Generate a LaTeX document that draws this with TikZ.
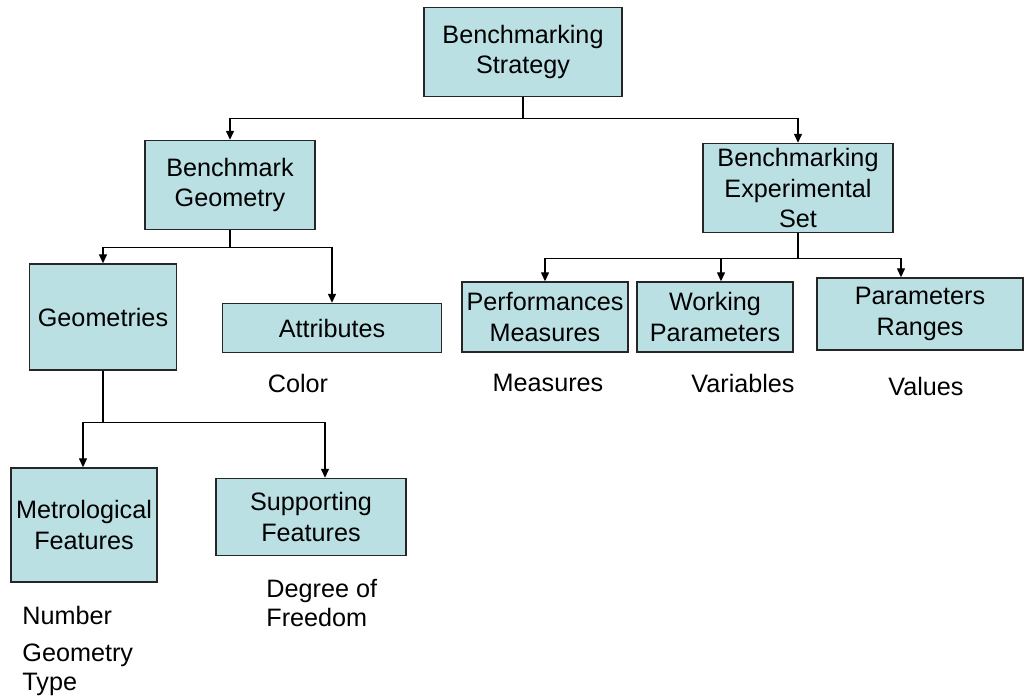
\documentclass[tikz,border=0pt]{standalone}
\usepackage{fontspec}
\setmainfont{Liberation Sans}
\usetikzlibrary{arrows.meta}
\definecolor{boxfill}{HTML}{BBE0E3}
\tikzset{block/.style={draw=black!85, fill=boxfill, line width=.7pt, align=center, inner sep=0pt, font=\fontsize{12.6}{15.3}\selectfont}}
\tikzset{link/.style={line width=.65pt, -{Triangle[width=4pt,length=4.5pt]}}}
\tikzset{note/.style={align=left, inner sep=0pt, font=\fontsize{12.6}{14.5}\selectfont}}

\begin{document}
\begin{tikzpicture}[x=.5pt, y=-.5pt]
		\useasboundingbox (0,0) rectangle (1024,700);
		% Boxes
		\node[block, minimum width=99pt, minimum height=44.5pt] (strat) at (523,52) {Benchmarking\\Strategy};
		\node[block, minimum width=85pt, minimum height=44.5pt] (bgeo) at (230,185) {Benchmark\\Geometry};
		\node[block, minimum width=95pt, minimum height=44.5pt] (bexp) at (798,188) {Benchmarking\\Experimental\\Set};
		\node[block, minimum width=73.5pt, minimum height=53pt] (geos) at (103,317) {Geometries};
		\node[block, minimum width=109.5pt, minimum height=24.5pt] (attr) at (332,328) {Attributes};
		\node[block, minimum width=83pt, minimum height=35pt] (perf) at (545,317) {Performances\\Measures};
		\node[block, minimum width=78pt, minimum height=35pt] (work) at (715,317) {Working\\Parameters};
		\node[block, minimum width=103pt, minimum height=36pt] (rang) at (920,314) {Parameters\\Ranges};
		\node[block, minimum width=73pt, minimum height=57pt] (metr) at (84,525) {Metrological\\Features};
		\node[block, minimum width=95pt, minimum height=38.5pt] (supp) at (311,517) {Supporting\\Features};

		% Connectors
		\draw[link] (strat.south) -- ++(0,21) -| (bgeo.north);
		\draw[link] (strat.south) -- ++(0,21) -| (bexp.north);
		\draw[link] (bgeo.south) -- ++(0,17) -| (geos.north);
		\draw[link] (bgeo.south) -- ++(0,17) -| (attr.north);
		\draw[link] (bexp.south) -- ++(0,25) -| (perf.north);
		\draw[link] (bexp.south) -- ++(0,25) -| ([xshift=3pt]work.north);
		\draw[link] (bexp.south) -- ++(0,25) -| ([xshift=-9.5pt]rang.north);
		\draw[link] (geos.south) -- ++(0,52) -| ([xshift=-.5pt]metr.north);
		\draw[link] (geos.south) -- ++(0,52) -| ([xshift=7pt]supp.north);

		% Notes
		\node[note] (color) at (298,383) {Color};
		\node[note] (meas) at (548,383) {Measures};
		\node[note] (vars) at (743,383) {Variables};
		\node[note] (vals) at (926,386) {Values};
		\node[note, anchor=north west] (dof) at (266,579) {Degree of\\Freedom};
		\node[note, anchor=north west] (numb) at (22,606) {Number\\[4pt]Geometry\\Type};
\end{tikzpicture}
\end{document}
